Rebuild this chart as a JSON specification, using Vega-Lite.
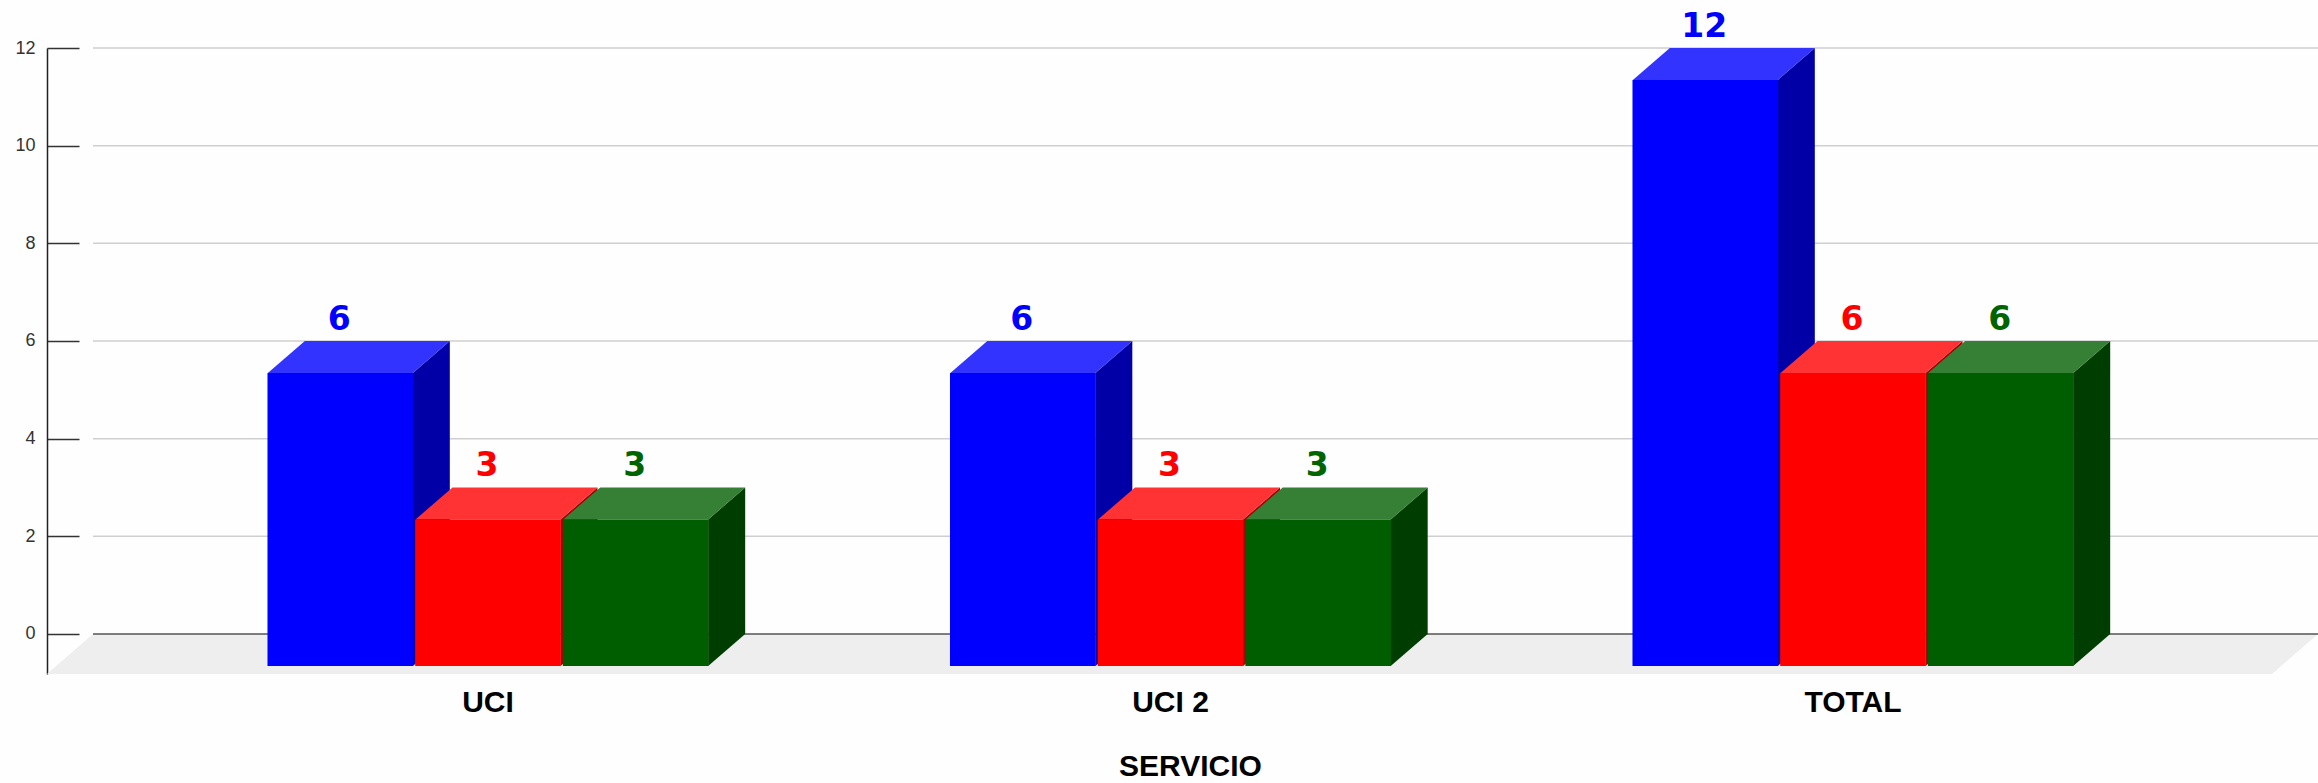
{
"$schema":"https://vega.github.io/schema/vega-lite/v6.json",
"width":2271,"height":626,
"autosize":{"type":"none"},
"padding":{"left":47,"top":48,"right":0,"bottom":109},
"background":"#fefefe",
"view":{"stroke":null},
"data":{"values":[
{"servicio":"UCI","serie":"Serie 1","value":6},
{"servicio":"UCI","serie":"Serie 2","value":3},
{"servicio":"UCI","serie":"Serie 3","value":3},
{"servicio":"UCI 2","serie":"Serie 1","value":6},
{"servicio":"UCI 2","serie":"Serie 2","value":3},
{"servicio":"UCI 2","serie":"Serie 3","value":3},
{"servicio":"TOTAL","serie":"Serie 1","value":12},
{"servicio":"TOTAL","serie":"Serie 2","value":6},
{"servicio":"TOTAL","serie":"Serie 3","value":6}
]},
"encoding":{"y":{"field":"value","type":"quantitative","scale":{"domain":[-0.82,12],"nice":false,"zero":false},
"axis":{"title":null,"values":[0,2,4,6,8,10,12],"grid":false,"domainColor":"#222222","domainWidth":1.5,"tickColor":"#333333","tickWidth":1.5,"tickSize":-32,"labelFont":"Liberation Sans","labelFontSize":18,"labelColor":"#333333","labelPadding":44}}},
"layer":[
{"data":{"values":[{"value":2},{"value":4},{"value":6},{"value":8},{"value":10},{"value":12}]},
 "mark":{"type":"point","shape":"M-1089.5,0H1135.5","size":4,"filled":false,"stroke":"#cfcfcf","strokeWidth":1.5,"opacity":1}},
{"data":{"values":[{"value":0}]},
 "mark":{"type":"point","shape":"M-1089.5,0H1135.5L1089.5,40H-1135.5Z","size":4,"filled":true,"fill":"#eeeeee","stroke":null,"opacity":1}},
{"data":{"values":[{"value":0}]},
 "mark":{"type":"point","shape":"M-1089.5,0H1135.5","size":4,"filled":false,"stroke":"#555555","strokeWidth":1.5,"opacity":1}},
{"mark":{"type":"point","size":4,"filled":true,"opacity":1,"strokeWidth":0},
 "encoding":{
  "x":{"field":"servicio","type":"nominal","sort":null,"scale":{"range":[99.75,2147.25],"paddingInner":0.3538,"paddingOuter":0.1769},
   "axis":{"title":"SERVICIO","domain":false,"ticks":false,"labelAngle":0,"labelFont":"Liberation Sans","labelFontWeight":"bold","labelFontSize":30,"labelColor":"#000000","labelPadding":13,"titleFont":"Liberation Sans","titleFontWeight":"bold","titleFontSize":30,"titleColor":"#000000","titlePadding":34,"titleX":1143}},
  "xOffset":{"field":"serie","type":"nominal","sort":null,"scale":{"paddingInner":0.0136,"paddingOuter":0}},
  "shape":{"field":"value","type":"nominal","legend":null,"scale":{"domain":[3,6,12],"range":["M72.5,32L109.5,0V146.5L72.5,178.5Z","M72.5,32L109.5,0V293L72.5,325Z","M72.5,32L109.5,0V586L72.5,618Z"]}},
  "color":{"field":"serie","type":"nominal","legend":null,"scale":{"domain":["Serie 1","Serie 2","Serie 3"],"range":["#0000a6","#a60000","#003d00"]}}
 }},
{"mark":{"type":"point","shape":"M-72.5,32L-35.5,0H109.5L72.5,32Z","size":4,"filled":true,"opacity":1,"strokeWidth":0},
 "encoding":{
  "x":{"field":"servicio","type":"nominal","sort":null},
  "xOffset":{"field":"serie","type":"nominal","sort":null},
  "color":{"field":"serie","type":"nominal","legend":null,"scale":{"domain":["Serie 1","Serie 2","Serie 3"],"range":["#3333ff","#ff3333","#358035"]}}
 }},
{"mark":{"type":"bar","yOffset":32,"y2Offset":32},
 "encoding":{
  "x":{"field":"servicio","type":"nominal","sort":null},
  "xOffset":{"field":"serie","type":"nominal","sort":null},
  "color":{"field":"serie","type":"nominal","legend":null,"scale":{"domain":["Serie 1","Serie 2","Serie 3"],"range":["#0000ff","#ff0000","#005e00"]}}
 }},
{"mark":{"type":"text","font":"DejaVu Sans","fontWeight":"bold","fontSize":33,"baseline":"alphabetic","dy":-11,"dx":-1},
 "encoding":{
  "x":{"field":"servicio","type":"nominal","sort":null},
  "xOffset":{"field":"serie","type":"nominal","sort":null},
  "text":{"field":"value","type":"quantitative"},
  "color":{"field":"serie","type":"nominal","legend":null,"scale":{"domain":["Serie 1","Serie 2","Serie 3"],"range":["#0000ff","#ff0000","#006400"]}}
 }}
],
"resolve":{"scale":{"color":"independent"}}
}
